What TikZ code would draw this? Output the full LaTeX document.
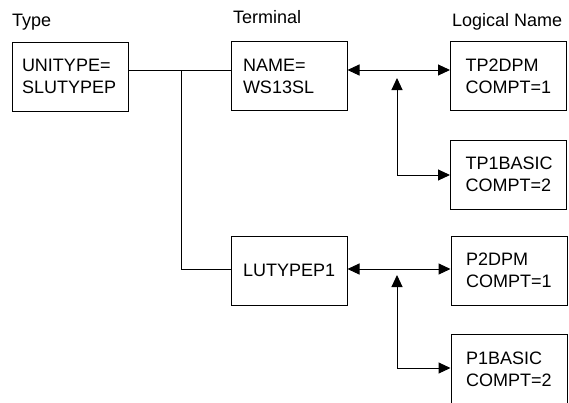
\documentclass[tikz,border=0pt]{standalone}
\usepackage{fontspec}
\setmainfont{Liberation Sans}
\usetikzlibrary{arrows.meta}
\begin{document}
\begin{tikzpicture}[x=1pt,y=-1pt,
  every node/.style={font=\fontsize{18}{22}\selectfont},
  box/.style={draw, line width=1pt, minimum height=69pt, inner xsep=12pt, text width=92pt, align=left, inner ysep=0pt},
  lbox/.style={box, inner xsep=15pt, text width=86pt},
  head/.style={anchor=base west, inner sep=0pt},
  conn/.style={line width=1pt},
  arr/.style={conn, {Triangle[length=12pt,width=11pt]}-{Triangle[length=12pt,width=11pt]}}
]
\useasboundingbox (0,0) rectangle (569,402);
\node[head] (h1) at (12,26) {Type};
\node[head] (h2) at (233,23) {Terminal};
\node[head] (h3) at (452,26) {Logical Name};

\node[box, inner xsep=10pt, text width=96pt] (typebox) at (70,76.5) {UNITYPE=\\SLUTYPEP};
\node[box] (term1) at (289,76) {NAME=\\WS13SL};
\node[box] (term2) at (289,270.5) {LUTYPEP1};
\node[lbox] (ln1) at (508.5,76) {TP2DPM\\COMPT=1};
\node[lbox] (ln2) at (508.5,174.5) {TP1BASIC\\COMPT=2};
\node[lbox] (ln3) at (509,270.5) {P2DPM\\COMPT=1};
\node[lbox, minimum height=71pt] (ln4) at (509,369.5) {P1BASIC\\COMPT=2};

\draw[conn] ([yshift=6.5pt]typebox.east) -- ([yshift=6pt]term1.west);
\coordinate (j) at (181,70);
\draw[conn] (j) |- ([yshift=1.5pt]term2.west);
\draw[arr] ([yshift=6pt]term1.east) -- ([yshift=6pt]ln1.west);
\coordinate (v1) at (397,78);
\draw[arr] (v1) |- ([yshift=-0.5pt]ln2.west);
\draw[arr] ([yshift=1.5pt]term2.east) -- ([yshift=1.5pt]ln3.west);
\coordinate (v2) at (397,275);
\draw[arr] (v2) |- ([yshift=1.5pt]ln4.west);
\end{tikzpicture}
\end{document}
